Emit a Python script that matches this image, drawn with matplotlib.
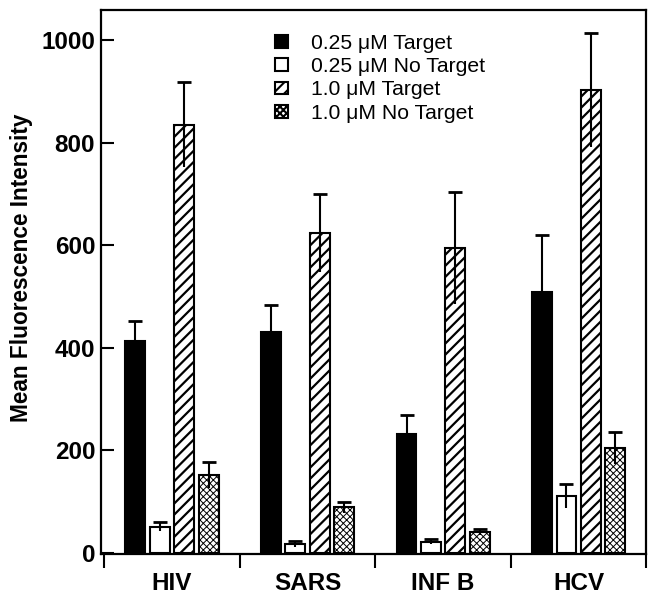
import matplotlib
matplotlib.use('Agg')
import matplotlib.pyplot as plt
import numpy as np

plt.rcParams['font.family'] = ['Liberation Sans', 'DejaVu Sans']
plt.rcParams['hatch.linewidth'] = 1.5

categories = ['HIV', 'SARS', 'INF B', 'HCV']
series_labels = ['0.25 μM Target', '0.25 μM No Target', '1.0 μM Target', '1.0 μM No Target']
t025 = [414, 430, 231, 508]
t025_err = [39, 54, 37, 113]
nt025 = [51, 17, 22, 111]
nt025_err = [9, 6, 5, 23]
t10 = [835, 624, 595, 903]
t10_err = [83, 76, 109, 111]
nt10 = [152, 89, 41, 204]
nt10_err = [25, 11, 6, 31]

values = [t025, nt025, t10, nt10]
errors = [t025_err, nt025_err, t10_err, nt10_err]
facecolors = ['black', 'white', 'white', 'white']
hatches = [None, None, '///', 'xxxxx']
hatch_lw = [1.5, 1.5, 1.6, 0.7]
offsets = [-0.27, -0.09, 0.09, 0.27]
width = 0.147

fig = plt.figure(figsize=(6.72, 6.0), dpi=100)
ax = fig.add_axes([0.150, 0.077, 0.812, 0.907])

x = np.arange(len(categories))
for vals, errs, fc, h, hl, off, lab in zip(values, errors, facecolors, hatches, hatch_lw, offsets, series_labels):
    with plt.rc_context({'hatch.linewidth': hl}):
        ax.bar(x + off, vals, width=width, color=fc, edgecolor='black', linewidth=1.5,
               hatch=h, label=lab, zorder=2)
    v = np.array(vals)
    e = np.array(errs)
    ax.errorbar(x + off, v, yerr=e, fmt='none', ecolor='black', elinewidth=1.5, capsize=0, zorder=3)
    ax.plot(x + off, v + e, linestyle='none', marker='_', markersize=9.5, markeredgewidth=2,
            color='black', zorder=3)

ax.set_xlim(-0.525, 3.5)
ax.set_ylim(-2, 1060)
ax.set_yticks([0, 200, 400, 600, 800, 1000])
ax.tick_params(axis='y', direction='in', length=9.5, width=1.5, labelsize=17.5, pad=4)
for t in ax.get_yticklabels():
    t.set_fontweight('bold')

# group separators as x ticks, labels at centers as minor ticks
ax.set_xticks(np.arange(len(categories) + 1) - 0.5)
ax.set_xticklabels([])
ax.tick_params(axis='x', which='major', direction='out', length=10, width=1.5)
ax.set_xticks(x, minor=True)
ax.set_xticklabels(categories, minor=True, fontsize=17.5, fontweight='bold')
ax.tick_params(axis='x', which='minor', length=0, pad=13)

for s in ax.spines.values():
    s.set_linewidth(1.6)

ax.set_ylabel('Mean Fluorescence Intensity', fontsize=16.3, fontweight='bold')
ax.yaxis.set_label_coords(-0.124, 0.525)

leg = ax.legend(loc='upper left', bbox_to_anchor=(0.285, 0.99), frameon=False, fontsize=15.2,
                handlelength=0.6, handleheight=0.55, labelspacing=0.2, handletextpad=1.1)
for p in leg.get_patches():
    p.set_linewidth(1.5)

fig.savefig('out.png', dpi=100)
